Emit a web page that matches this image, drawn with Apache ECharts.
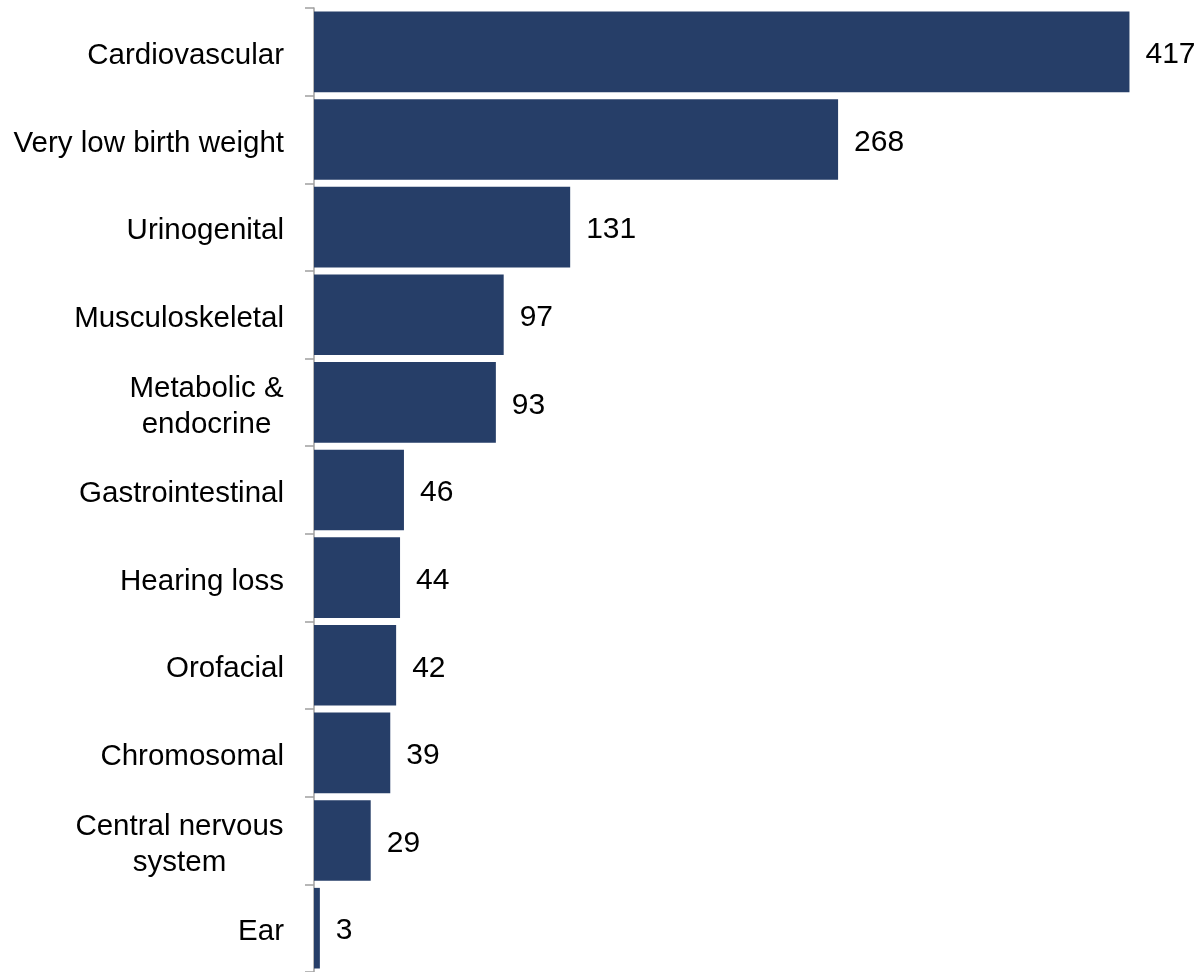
<!DOCTYPE html>
<html>
<head>
<meta charset="utf-8">
<script src="https://cdn.jsdelivr.net/npm/echarts@6/dist/echarts.min.js"></script>
<style>html,body{margin:0;padding:0;background:#fff;}#c{width:1201px;height:972px;}</style>
</head>
<body>
<div id="c"></div>
<script>
const categories = ["Cardiovascular","Very low birth weight","Urinogenital","Musculoskeletal","Metabolic &\nendocrine","Gastrointestinal","Hearing loss","Orofacial","Chromosomal","Central nervous\nsystem","Ear"];
const values = [417,268,131,97,93,46,44,42,39,29,3];

const FONT = 'Liberation Sans';
const FS = 29.5;
const cv = document.createElement('canvas').getContext('2d');
cv.font = FS + 'px "' + FONT + '"';
const rich = {};
categories.forEach((c, i) => {
  const lines = c.split('\n');
  if (lines.length > 1) {
    const w = Math.max(...lines.map(l => cv.measureText(l).width));
    rich['m' + i] = {width: Math.ceil(w), align: 'center', fontSize: FS, fontFamily: FONT, color: '#000', lineHeight: 36};
  }
});

const chart = echarts.init(document.getElementById('c'));
chart.setOption({
  animation: false,
  textStyle: {fontFamily: FONT},
  grid: {left: 314, right: 7, top: 8, bottom: 0, containLabel: false},
  xAxis: {type: 'value', min: 0, max: 450, show: false},
  yAxis: {
    type: 'category', data: categories, inverse: true,
    axisLine: {show: true, lineStyle: {color: '#a0a0a0', width: 1.5}},
    axisTick: {show: true, length: 9, lineStyle: {color: '#a0a0a0', width: 1.5}},
    axisLabel: {
      margin: 30, color: '#000', fontSize: FS, lineHeight: 36, padding: [8, 0, 0, 0], fontFamily: FONT, align: 'right',
      formatter: (v, i) => {
        const lines = v.split('\n');
        if (lines.length > 1) return lines.map(l => '{m' + i + '|' + l + '}').join('\n');
        return v;
      },
      rich: rich
    }
  },
  series: [{
    type: 'bar', data: values, barCategoryGap: '8%',
    itemStyle: {color: '#263E68'},
    label: {show: true, position: 'right', distance: 16, offset: [0, 3], color: '#000', fontSize: 30, fontFamily: FONT}
  }]
});
</script>
</body>
</html>
